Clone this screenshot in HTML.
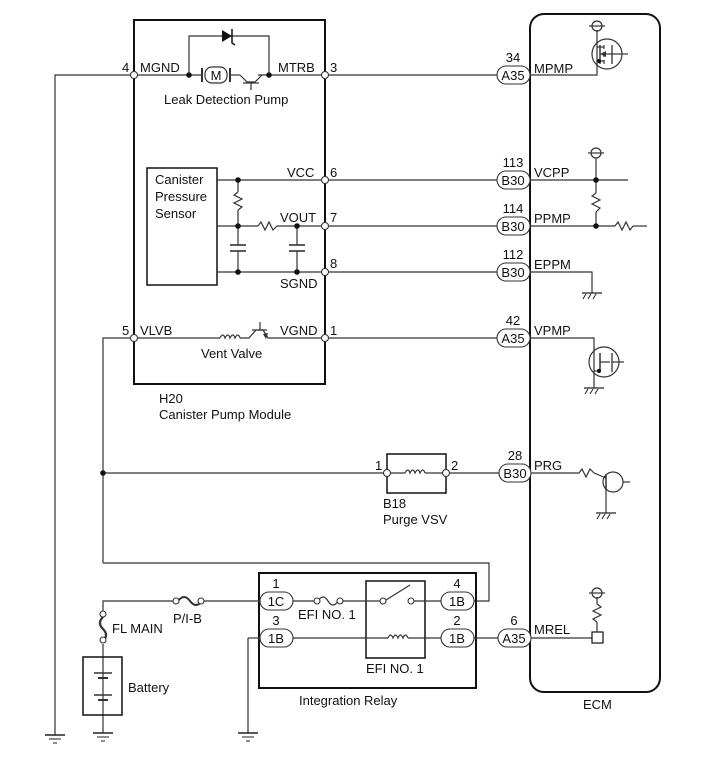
<!DOCTYPE html>
<html><head><meta charset="utf-8"><style>
html,body{margin:0;padding:0;background:#fff;}
svg{display:block;}
text{font-family:"Liberation Sans",Arial,sans-serif;font-size:13px;fill:#111;}
</style></head><body>
<svg width="713" height="782" viewBox="0 0 713 782" xmlns="http://www.w3.org/2000/svg">
<defs>
<g id="gnd"><line x1="-10" y1="0" x2="10" y2="0" stroke="#222" stroke-width="1.5"/><line x1="-6" y1="4" x2="6" y2="4" stroke="#222"/><line x1="-2" y1="8" x2="2" y2="8" stroke="#222"/></g>
<g id="cgnd"><line x1="-10" y1="0" x2="10" y2="0" stroke="#222" stroke-width="1.3"/><line x1="-6" y1="1" x2="-9" y2="6" stroke="#222"/><line x1="-1" y1="1" x2="-4" y2="6" stroke="#222"/><line x1="4" y1="1" x2="1" y2="6" stroke="#222"/></g>
</defs>
<g fill="none" stroke="#333" stroke-width="1.2">
<rect x="134" y="20" width="191" height="364" stroke-width="2" stroke="#111"/>
<rect x="530" y="14" width="130" height="678" rx="14" stroke-width="2" stroke="#111"/>
<polyline points="55,735 55,75 201,75"/>
<line x1="231" y1="75" x2="240" y2="75"/>
<line x1="258" y1="75" x2="497" y2="75"/>
<polyline points="189,75 189,36 269,36 269,75"/>
<rect x="205" y="67" width="22" height="16" rx="7"/>
<line x1="202" y1="68" x2="202" y2="82" stroke-width="2"/><line x1="230" y1="68" x2="230" y2="82" stroke-width="2"/>
<polyline points="240,75 247,82 255,82 262,75"/><line x1="243" y1="83" x2="259" y2="83"/><line x1="251" y1="83" x2="251" y2="90"/>
<rect x="147" y="168" width="70" height="117" stroke="#111" stroke-width="1.5"/>
<line x1="217" y1="180" x2="497" y2="180"/>
<line x1="217" y1="226" x2="258" y2="226"/><polyline points="258,226 261,222 265,230 269,222 273,230 277,226"/><line x1="277" y1="226" x2="497" y2="226"/>
<line x1="217" y1="272" x2="497" y2="272"/>
<line x1="238" y1="180" x2="238" y2="192"/><polyline points="238,192 234,195 242,199 234,203 242,207 238,210"/><line x1="238" y1="210" x2="238" y2="245"/>
<line x1="230" y1="245" x2="246" y2="245" stroke-width="1.6"/><line x1="230" y1="251" x2="246" y2="251" stroke-width="1.6"/><line x1="238" y1="251" x2="238" y2="272"/>
<line x1="297" y1="226" x2="297" y2="245"/>
<line x1="289" y1="245" x2="305" y2="245" stroke-width="1.6"/><line x1="289" y1="251" x2="305" y2="251" stroke-width="1.6"/><line x1="297" y1="251" x2="297" y2="272"/>
<polyline points="103,563 103,338 220,338"/>
<path d="M220,338 q3,-6 5,0 q3,-6 5,0 q3,-6 5,0 q3,-6 5,0" />
<polyline points="240,338 249,338 256,330 263,330 268,338 497,338"/><line x1="252" y1="330" x2="267" y2="330"/><line x1="260" y1="322" x2="260" y2="330"/>
<line x1="103" y1="473" x2="387" y2="473"/>
<rect x="387" y="454" width="59" height="39" stroke="#111" stroke-width="1.5"/>
<line x1="387" y1="473" x2="405" y2="473"/><path d="M405,473 q3,-6 5,0 q3,-6 5,0 q3,-6 5,0 q3,-6 5,0"/><line x1="425" y1="473" x2="446" y2="473"/>
<line x1="446" y1="473" x2="499" y2="473"/>
<polyline points="103,563 489,563 489,601 474,601"/>
<rect x="259" y="573" width="217" height="115" stroke="#111" stroke-width="2"/>
<rect x="366" y="581" width="59" height="77" stroke="#111" stroke-width="1.5"/>
<polyline points="103,614 103,601 175,601"/>
<line x1="202" y1="601" x2="260" y2="601"/>
<path d="M178,601 q6,-8 12,0 q6,8 12,0" stroke-width="2"/>
<line x1="293" y1="601" x2="315" y2="601"/><path d="M318,601 q5,-8 10,0 q5,8 10,0"/><line x1="341" y1="601" x2="380" y2="601"/>
<line x1="386" y1="600" x2="410" y2="585"/>
<line x1="414" y1="601" x2="441" y2="601"/>
<line x1="248" y1="733" x2="248" y2="638"/><line x1="248" y1="638" x2="260" y2="638"/>
<line x1="293" y1="638" x2="388" y2="638"/><path d="M388,638 q2.5,-6 5,0 q2.5,-6 5,0 q2.5,-6 5,0 q2.5,-6 5,0"/><line x1="408" y1="638" x2="441" y2="638"/>
<line x1="474" y1="638" x2="498" y2="638"/>
<line x1="531" y1="638" x2="592" y2="638"/>
<path d="M103,617 q-6,6 0,12 q6,6 0,12" stroke-width="2.2"/>
<line x1="103" y1="644" x2="103" y2="733"/>
<rect x="83" y="657" width="39" height="58" stroke="#111" stroke-width="1.5"/>
<line x1="94" y1="673" x2="112" y2="673" stroke-width="1.5"/><line x1="98" y1="678" x2="108" y2="678" stroke-width="2"/>
<line x1="94" y1="695" x2="112" y2="695" stroke-width="1.5"/><line x1="98" y1="700" x2="108" y2="700" stroke-width="2"/>
<polyline points="530,75 597,75 597,30"/>
<circle cx="597" cy="26" r="5"/><line x1="589" y1="26" x2="605" y2="26"/>
<circle cx="607" cy="54" r="15"/>
<line x1="600" y1="45" x2="600" y2="64" stroke-width="1.5"/>
<line x1="604" y1="45" x2="604" y2="49"/><line x1="604" y1="52" x2="604" y2="57"/><line x1="604" y1="60" x2="604" y2="64"/>
<polyline points="597,47 604,47"/><polyline points="597,61 604,61"/><line x1="604" y1="54" x2="612" y2="54"/>
<line x1="612" y1="45" x2="612" y2="64" stroke-width="1.3"/><line x1="612" y1="54" x2="628" y2="54"/>
<line x1="530" y1="180" x2="628" y2="180"/>
<circle cx="596" cy="153" r="5"/><line x1="588" y1="153" x2="604" y2="153"/><line x1="596" y1="158" x2="596" y2="193"/>
<polyline points="596,193 592,196 600,200 592,204 600,208 596,212"/><line x1="596" y1="212" x2="596" y2="226"/>
<line x1="530" y1="226" x2="615" y2="226"/><polyline points="615,226 618,222 622,230 626,222 630,230 633,226"/><line x1="633" y1="226" x2="647" y2="226"/>
<polyline points="530,272 592,272 592,293"/>
<polyline points="530,338 594,338 594,388"/>
<circle cx="604" cy="362" r="15"/>
<line x1="600" y1="353" x2="600" y2="372" stroke-width="1.5"/><line x1="594" y1="371" x2="600" y2="371"/><line x1="600" y1="362" x2="610" y2="362"/>
<line x1="612" y1="353" x2="612" y2="372" stroke-width="1.3"/><line x1="612" y1="362" x2="624" y2="362"/>
<line x1="531" y1="473" x2="579" y2="473"/><polyline points="579,473 582,469 586,477 590,469 594,473"/><line x1="594" y1="473" x2="606" y2="478"/>
<circle cx="613" cy="482" r="10"/><line x1="606" y1="474" x2="606" y2="490" stroke-width="1.5"/><line x1="606" y1="486" x2="606" y2="513"/><line x1="623" y1="482" x2="630" y2="482"/>
<rect x="592" y="632" width="11" height="11" stroke="#111"/>
<line x1="597" y1="632" x2="597" y2="622"/><polyline points="597,622 593,619 601,615 593,611 601,607 597,604"/><line x1="597" y1="604" x2="597" y2="597"/>
<circle cx="597" cy="593" r="5"/><line x1="589" y1="593" x2="605" y2="593"/>
</g>
<polygon points="222,30 222,42 232,36" fill="#111"/><polyline points="232,29 232,43 235,45" fill="none" stroke="#111" stroke-width="1.5"/>
<polygon points="263,334 266,339 268,333" fill="#333"/><polygon points="606,51 600,54 606,57" fill="#333"/>
<use href="#gnd" x="55" y="735"/><use href="#gnd" x="103" y="733"/><use href="#gnd" x="248" y="733"/>
<use href="#cgnd" x="592" y="293"/><use href="#cgnd" x="594" y="388"/><use href="#cgnd" x="606" y="513"/>
<g fill="#111">
<circle cx="189" cy="75" r="2.8"/><circle cx="269" cy="75" r="2.8"/>
<circle cx="238" cy="180" r="2.8"/><circle cx="238" cy="226" r="2.8"/><circle cx="238" cy="272" r="2.8"/>
<circle cx="297" cy="226" r="2.8"/><circle cx="297" cy="272" r="2.8"/>
<circle cx="103" cy="473" r="2.8"/><circle cx="596" cy="180" r="2.8"/><circle cx="596" cy="226" r="2.8"/>
<circle cx="599" cy="61" r="2"/><circle cx="599" cy="371" r="2"/>
</g>
<g fill="#fff" stroke="#333" stroke-width="1.1">
<circle cx="134" cy="75" r="3.5"/><circle cx="325" cy="75" r="3.5"/><circle cx="325" cy="180" r="3.5"/><circle cx="325" cy="226" r="3.5"/><circle cx="325" cy="272" r="3.5"/><circle cx="134" cy="338" r="3.5"/><circle cx="325" cy="338" r="3.5"/>
<circle cx="387" cy="473" r="3.5"/><circle cx="446" cy="473" r="3.5"/>
<circle cx="176" cy="601" r="3"/><circle cx="201" cy="601" r="3"/><circle cx="103" cy="614" r="3"/><circle cx="103" cy="640" r="3"/>
<circle cx="317" cy="601" r="3"/><circle cx="340" cy="601" r="3"/><circle cx="383" cy="601" r="3"/><circle cx="411" cy="601" r="3"/>
<rect x="497" y="66" width="33" height="18" rx="9"/><rect x="497" y="171" width="33" height="18" rx="9"/><rect x="497" y="217" width="33" height="18" rx="9"/><rect x="497" y="263" width="33" height="18" rx="9"/><rect x="497" y="329" width="33" height="18" rx="9"/><rect x="499" y="464" width="32" height="18" rx="9"/>
<rect x="260" y="592" width="33" height="18" rx="9"/><rect x="260" y="629" width="33" height="18" rx="9"/><rect x="441" y="592" width="33" height="18" rx="9"/><rect x="441" y="629" width="33" height="18" rx="9"/><rect x="498" y="629" width="33" height="18" rx="9"/>
</g>
<g text-anchor="middle">
<text x="513" y="80">A35</text><text x="513" y="185">B30</text><text x="513" y="231">B30</text><text x="513" y="277">B30</text><text x="513" y="343">A35</text><text x="515" y="478">B30</text>
<text x="276" y="606">1C</text><text x="276" y="643">1B</text><text x="457" y="606">1B</text><text x="457" y="643">1B</text><text x="514" y="643">A35</text>
<text x="513" y="62">34</text><text x="513" y="167">113</text><text x="513" y="213">114</text><text x="513" y="259">112</text><text x="513" y="325">42</text><text x="515" y="460">28</text>
<text x="276" y="588">1</text><text x="276" y="625">3</text><text x="457" y="588">4</text><text x="457" y="625">2</text><text x="514" y="625">6</text>
<text x="216" y="80" font-size="12">M</text>
</g>
<text x="534" y="73">MPMP</text><text x="534" y="177">VCPP</text><text x="534" y="223">PPMP</text><text x="534" y="269">EPPM</text><text x="534" y="335">VPMP</text><text x="534" y="470">PRG</text><text x="534" y="634">MREL</text>
<text x="122" y="72">4</text><text x="140" y="72">MGND</text><text x="278" y="72">MTRB</text><text x="330" y="72">3</text>
<text x="164" y="104">Leak Detection Pump</text>
<text x="155" y="184">Canister</text><text x="155" y="201">Pressure</text><text x="155" y="218">Sensor</text>
<text x="287" y="177">VCC</text><text x="330" y="177">6</text><text x="280" y="222">VOUT</text><text x="330" y="222">7</text><text x="330" y="268">8</text><text x="280" y="288">SGND</text>
<text x="122" y="335">5</text><text x="140" y="335">VLVB</text><text x="280" y="335">VGND</text><text x="330" y="335">1</text>
<text x="201" y="358">Vent Valve</text>
<text x="159" y="403">H20</text><text x="159" y="419">Canister Pump Module</text>
<text x="375" y="470">1</text><text x="451" y="470">2</text><text x="383" y="508">B18</text><text x="383" y="524">Purge VSV</text>
<text x="173" y="623">P/I-B</text><text x="112" y="633">FL MAIN</text><text x="298" y="619">EFI NO. 1</text><text x="366" y="673">EFI NO. 1</text>
<text x="128" y="692">Battery</text><text x="299" y="705">Integration Relay</text><text x="583" y="709">ECM</text>
</svg>
</body></html>
